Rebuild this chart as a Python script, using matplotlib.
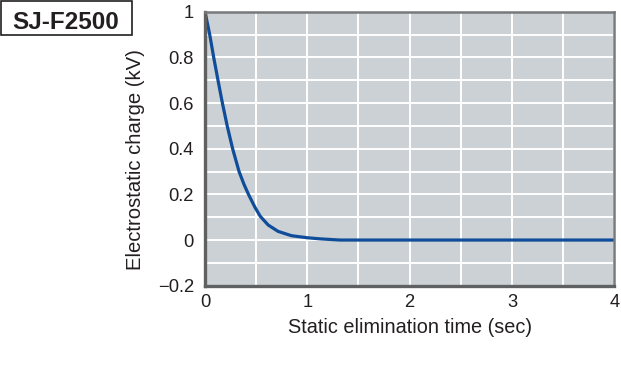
"""
Courbe d'élimination statique du SJ-F2500.
"""
from matplotlib import pyplot as plt
from matplotlib.patches import Rectangle
from matplotlib.ticker import FixedLocator, MultipleLocator

# Valeurs
time_sec = [0, 0.046, 0.085, 0.127, 0.17, 0.217, 0.27, 0.333, 0.38, 0.425,
            0.49, 0.54, 0.617, 0.714, 0.845, 1.0, 1.13, 1.32, 1.5, 4.0]
charge_kv = [1.0, 0.9, 0.8, 0.7, 0.6, 0.5, 0.4, 0.3, 0.245, 0.2,
             0.142, 0.104, 0.066, 0.038, 0.019, 0.01, 0.005, 0.0, 0.0, 0.0]
x_ticks = [0, 1, 2, 3, 4]
y_ticks = [-0.2, 0, 0.2, 0.4, 0.6, 0.8, 1]
y_tick_labels = ['\u22120.2', '0', '0.2', '0.4', '0.6', '0.8', '1']
model_name = 'SJ-F2500'

plt.rcParams['font.family'] = ['Liberation Sans', 'DejaVu Sans']
text_color = '#231f20'

fig = plt.figure(figsize=(6.21, 3.85), dpi=100)
ax = fig.add_axes([0.3301, 0.2579, 0.6591, 0.7117])

ax.set_facecolor('#cbd1d5')
ax.plot(time_sec, charge_kv, color='#0f4c9a', lw=2.3, solid_capstyle='round')

ax.set_xlim(0, 4)
ax.set_ylim(-0.2, 1)
ax.xaxis.set_major_locator(FixedLocator(x_ticks))
ax.xaxis.set_minor_locator(MultipleLocator(0.5))
ax.yaxis.set_major_locator(FixedLocator(y_ticks))
ax.yaxis.set_minor_locator(MultipleLocator(0.1))
ax.set_yticklabels(y_tick_labels)
ax.grid(which='both', color='white', lw=1.4)
ax.set_axisbelow(True)
ax.tick_params(which='both', length=0, labelsize=13.2, colors=text_color)
ax.tick_params(axis='x', pad=6)
ax.tick_params(axis='y', pad=8)

for side in ['left', 'bottom']:
    ax.spines[side].set_color('#5f6062')
    ax.spines[side].set_linewidth(2.4)
for side in ['top', 'right']:
    ax.spines[side].set_color('#78797b')
    ax.spines[side].set_linewidth(1.8)

ax.set_xlabel('Static elimination time (sec)', fontsize=14.3, color=text_color)
ax.xaxis.label.set_va('baseline')
ax.xaxis.set_label_coords(0.5, -0.172)
ax.set_ylabel('Electrostatic charge (kV)', fontsize=14.6, color=text_color)
ax.yaxis.label.set_va('center')
ax.yaxis.set_label_coords(-0.171, 0.462)

# Cartouche du modèle en haut à gauche
fig.patches.append(Rectangle((0.0016, 0.909), 0.2115, 0.0875, transform=fig.transFigure,
                             facecolor='white', edgecolor=text_color, lw=1.2))
fig.text(0.1063, 0.948, model_name, fontsize=17.5, fontweight='bold', color=text_color,
         ha='center', va='center_baseline')

fig.savefig('out.png', dpi=100)
